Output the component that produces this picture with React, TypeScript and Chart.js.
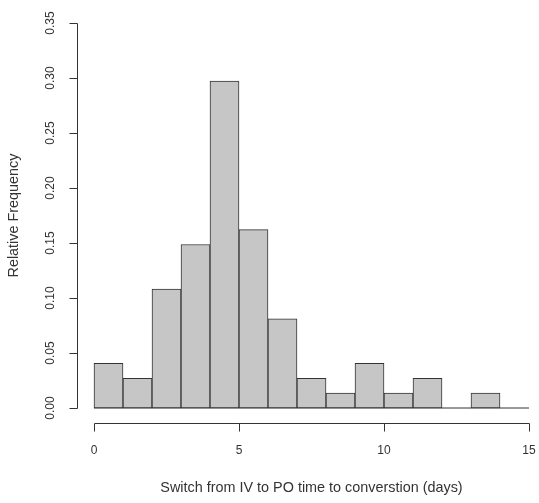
import React, { useEffect, useRef } from "react";
import { Chart, registerables } from "chart.js";

Chart.register(...registerables);

// Histogram bin edges (days) and relative frequency per bin
const BIN_EDGES = [0, 1, 2, 3, 4, 5, 6, 7, 8, 9, 10, 11, 12, 13, 14, 15];
const REL_FREQ = [
  0.0405, 0.027, 0.1081, 0.1486, 0.2973, 0.1622, 0.0811, 0.027, 0.0135, 0.0405,
  0.0135, 0.027, 0, 0.0135, 0,
];
const X_TICKS = [0, 5, 10, 15];
const Y_TICKS = [0, 0.05, 0.1, 0.15, 0.2, 0.25, 0.3, 0.35];
const X_TITLE = "Switch from IV to PO time to converstion (days)";
const Y_TITLE = "Relative Frequency";

const FONT = "'Liberation Sans', Arial, Helvetica, sans-serif";
const TEXT = "#333333";
const LINE = "#333333";

const rAxesPlugin = {
  id: "rAxes",
  afterDraw(chart: any) {
    const { ctx, chartArea, scales } = chart;
    const xs = scales.x;
    const ys = scales.y;
    const axisY = chartArea.bottom + 15;
    const axisX = chartArea.left - 17;
    const tick = 8;
    ctx.save();
    ctx.strokeStyle = LINE;
    ctx.lineWidth = 1;
    ctx.beginPath();
    const x0 = Math.round(xs.getPixelForValue(X_TICKS[0])) + 0.5;
    const x1 = Math.round(xs.getPixelForValue(X_TICKS[X_TICKS.length - 1])) + 0.5;
    const ay = Math.round(axisY) + 0.5;
    ctx.moveTo(x0, ay);
    ctx.lineTo(x1, ay);
    X_TICKS.forEach((v) => {
      const px = Math.round(xs.getPixelForValue(v)) + 0.5;
      ctx.moveTo(px, ay);
      ctx.lineTo(px, ay + tick);
    });
    const ax = Math.round(axisX) + 0.5;
    const y0 = Math.round(ys.getPixelForValue(Y_TICKS[0])) + 0.5;
    const y1 = Math.round(ys.getPixelForValue(Y_TICKS[Y_TICKS.length - 1])) + 0.5;
    ctx.moveTo(ax, y0);
    ctx.lineTo(ax, y1);
    Y_TICKS.forEach((v) => {
      const py = Math.round(ys.getPixelForValue(v)) + 0.5;
      ctx.moveTo(ax, py);
      ctx.lineTo(ax - tick, py);
    });
    ctx.stroke();
    ctx.restore();
  },
};

export default function App() {
  const ref = useRef<HTMLCanvasElement | null>(null);

  useEffect(() => {
    if (!ref.current) return;
    const bars = REL_FREQ.map((y, i) => ({
      x: (BIN_EDGES[i] + BIN_EDGES[i + 1]) / 2,
      y,
    }));
    const base = [
      { x: BIN_EDGES[0], y: 0 },
      { x: BIN_EDGES[BIN_EDGES.length - 1], y: 0 },
    ];
    const chart = new Chart(ref.current, {
      type: "bar",
      data: {
        datasets: [
          {
            type: "bar",
            data: bars as any,
            backgroundColor: "#c6c6c6",
            borderColor: LINE,
            borderWidth: 1,
            borderSkipped: false,
            barPercentage: 1,
            categoryPercentage: 1,
            clip: false as any,
          },
          {
            type: "line",
            data: base as any,
            borderColor: LINE,
            borderWidth: 1,
            pointRadius: 0,
            clip: false as any,
          } as any,
        ],
      },
      options: {
        animation: false,
        responsive: false,
        devicePixelRatio: 1,
        layout: { padding: { left: 0, right: 10, top: 23, bottom: 0 } },
        plugins: {
          legend: { display: false },
          tooltip: { enabled: false },
        },
        scales: {
          x: {
            type: "linear",
            offset: false,
            min: BIN_EDGES[0],
            max: BIN_EDGES[BIN_EDGES.length - 1],
            grid: { display: false, drawTicks: true, tickLength: 35 },
            border: { display: false },
            afterBuildTicks: (s: any) => {
              s.ticks = X_TICKS.map((v) => ({ value: v }));
            },
            afterFit: (s: any) => {
              s.height = 95;
            },
            ticks: {
              padding: 0,
              color: TEXT,
              font: { family: FONT, size: 12 },
              maxRotation: 0,
              autoSkip: false,
              callback: (v: any) => String(v),
            },
            title: {
              display: true,
              text: X_TITLE,
              color: TEXT,
              font: { family: FONT, size: 14.4 },
              padding: { top: 0, bottom: 6.4 },
            },
          },
          y: {
            type: "linear",
            min: Y_TICKS[0],
            max: Y_TICKS[Y_TICKS.length - 1],
            grid: { display: false, drawTicks: true, tickLength: 32 },
            border: { display: false },
            afterBuildTicks: (s: any) => {
              s.ticks = Y_TICKS.map((v) => ({ value: v }));
            },
            afterFit: (s: any) => {
              s.width = 94;
            },
            ticks: {
              padding: 0,
              color: TEXT,
              font: { family: FONT, size: 12 },
              minRotation: 90,
              maxRotation: 90,
              crossAlign: "center",
              autoSkip: false,
              callback: (v: any) => Number(v).toFixed(2),
            },
            title: {
              display: true,
              text: Y_TITLE,
              color: TEXT,
              font: { family: FONT, size: 14.4 },
              padding: { top: 5.4, bottom: 0 },
            },
          },
        },
      },
      plugins: [rAxesPlugin],
    });
    return () => chart.destroy();
  }, []);

  return (
    <div style={{ position: "absolute", left: 0, top: 0, width: 539, height: 503, background: "#fff" }}>
      <canvas ref={ref} width={539} height={503} style={{ display: "block" }} />
    </div>
  );
}
